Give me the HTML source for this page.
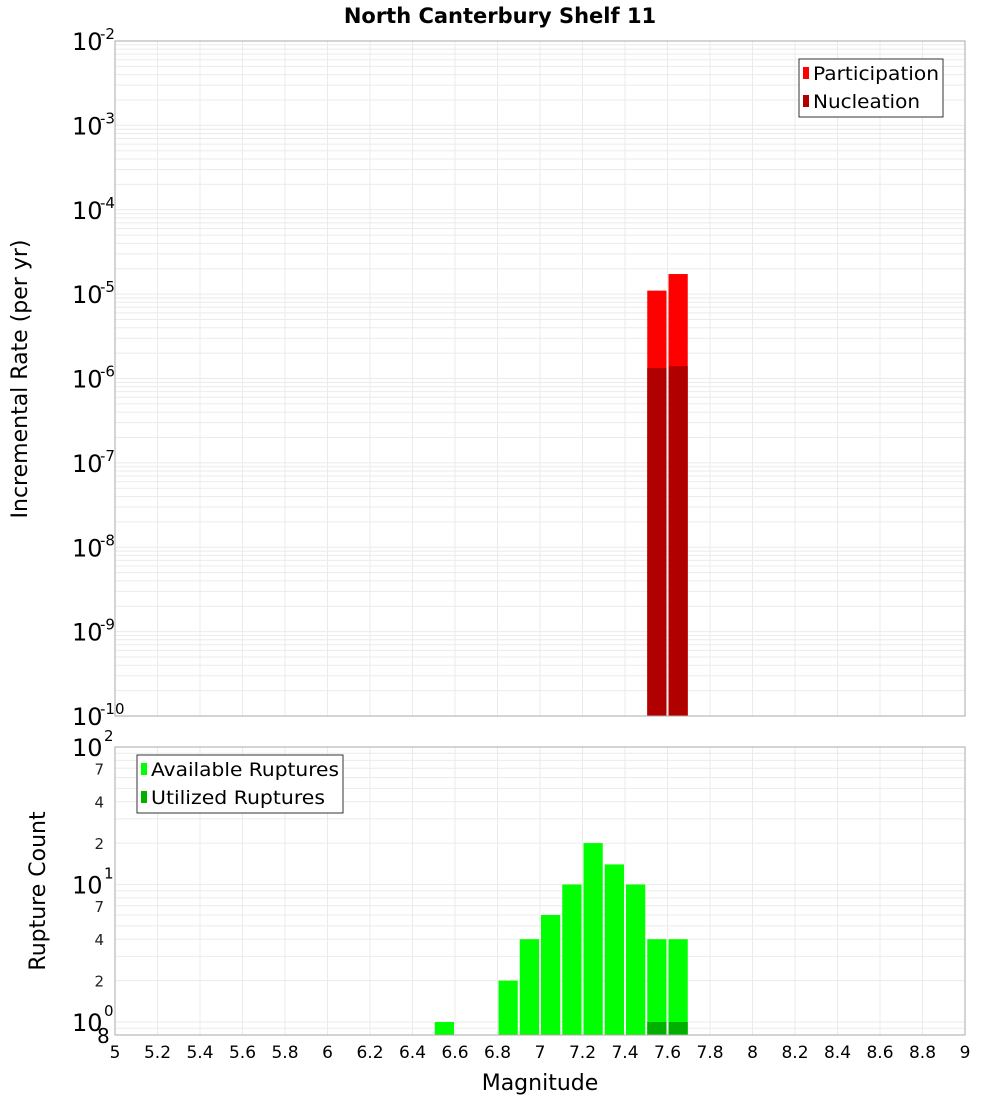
<!DOCTYPE html>
<html><head><meta charset="utf-8"><style>
html,body{margin:0;padding:0;background:#fff}
svg{display:block;font-family:"DejaVu Sans","Liberation Sans",sans-serif}
</style></head><body>
<svg id="c" width="1000" height="1100">
<g id="topg"></g>
<g id="botg"></g>
<text x="500" y="23" text-anchor="middle" font-size="21" font-weight="bold">North Canterbury Shelf 11</text>
<text transform="translate(27,379) rotate(-90)" text-anchor="middle" font-size="22">Incremental Rate (per yr)</text>
<text transform="translate(45,891) rotate(-90)" text-anchor="middle" font-size="22">Rupture Count</text>
<text x="540" y="1090" text-anchor="middle" font-size="22">Magnitude</text>
<g>
<rect x="799" y="59" width="144" height="58" fill="#fff" stroke="#333"/>
<rect x="803" y="67" width="6" height="12" fill="#ff0000"/>
<text x="813" y="80" font-size="19" textLength="126" lengthAdjust="spacingAndGlyphs">Participation</text>
<rect x="803" y="95" width="6" height="12" fill="#b00000"/>
<text x="813" y="108" font-size="19" textLength="107" lengthAdjust="spacingAndGlyphs">Nucleation</text>
</g>
<g>
<rect x="137" y="755" width="206" height="58" fill="#fff" stroke="#333"/>
<rect x="141" y="763" width="6" height="12" fill="#00ff00"/>
<text x="151" y="776" font-size="19" textLength="188" lengthAdjust="spacingAndGlyphs">Available Ruptures</text>
<rect x="141" y="791" width="6" height="12" fill="#00b000"/>
<text x="151" y="804" font-size="19" textLength="174" lengthAdjust="spacingAndGlyphs">Utilized Ruptures</text>
</g>
</svg>
<script>
const binCenters=[6.55,6.85,6.95,7.05,7.15,7.25,7.35,7.45,7.55,7.65];
const availableCounts=[1,2,4,6,10,20,14,10,4,4];
const utilizedCounts=[0,0,0,0,0,0,0,0,1,1];
const rateBins=[7.55,7.65];
const participationRates=[1.1e-5,1.73e-5];
const nucleationRates=[1.33e-6,1.4e-6];
const xTicks=["5","5.2","5.4","5.6","5.8","6","6.2","6.4","6.6","6.8","7","7.2","7.4","7.6","7.8","8","8.2","8.4","8.6","8.8","9"];
const rateExps=[-2,-3,-4,-5,-6,-7,-8,-9,-10];

const NS="http://www.w3.org/2000/svg";
const X0=115,X1=965;
function xs(m){return X0+(m-5)/4*(X1-X0);}
const T0=41,T1=716;
function yTop(v){return T0+(-2-Math.log10(v))*(T1-T0)/8;}
const B0=747,B1=1035;
function yBot(v){return 1022-Math.log10(v)*137.5;}
function mk(par,tag,at){const e=document.createElementNS(NS,tag);for(const k in at)e.setAttribute(k,at[k]);par.appendChild(e);return e;}
const gTop=document.getElementById('topg'),gBot=document.getElementById('botg');
mk(gTop,'rect',{x:X0,y:T0,width:X1-X0,height:T1-T0,fill:'#fff'});
mk(gBot,'rect',{x:X0,y:B0,width:X1-X0,height:B1-B0,fill:'#fff'});
for(let e=-10;e<-2;e++)for(let k=1;k<10;k++){const y=yTop(k*Math.pow(10,e));const g=mk(gTop,'line',{x1:X0,x2:X1,y1:y,y2:y,stroke:'#ebebeb','stroke-width':1});

}
for(let e=-1;e<2;e++)for(let k=1;k<10;k++){const y=yBot(k*Math.pow(10,e));if(y<B0||y>B1)continue;const g=mk(gBot,'line',{x1:X0,x2:X1,y1:y,y2:y,stroke:'#ebebeb','stroke-width':1});

}
xTicks.forEach(t=>{const x=xs(parseFloat(t));
[[T0,T1,gTop],[B0,B1,gBot]].forEach(([a,b,p])=>{const g=mk(p,'line',{x1:x,x2:x,y1:a,y2:b,stroke:'#ebebeb'});

});
const tx=mk(gBot,'text',{x:x,y:1058,'text-anchor':'middle','font-size':17});tx.textContent=t;

});
rateBins.forEach((m,i)=>{const xl=xs(m-0.05)+1,w=xs(m+0.05)-xs(m-0.05)-2;
const y1=yTop(participationRates[i]);const r=mk(gTop,'rect',{x:xl,y:y1,width:w,height:T1-y1,fill:'#ff0000'});


const y2=yTop(nucleationRates[i]);const n=mk(gTop,'rect',{x:xl,y:y2,width:w,height:T1-y2,fill:'#b00000'});

});
binCenters.forEach((m,i)=>{const xl=xs(m-0.05)+1,w=xs(m+0.05)-xs(m-0.05)-2;
const y1=yBot(availableCounts[i]);const r=mk(gBot,'rect',{x:xl,y:y1,width:w,height:B1-y1,fill:'#00ff00'});


if(utilizedCounts[i]>0){const y2=yBot(utilizedCounts[i]);const n=mk(gBot,'rect',{x:xl,y:y2,width:w,height:B1-y2,fill:'#00b000'});

}});
mk(gTop,'rect',{x:X0,y:T0,width:X1-X0,height:T1-T0,fill:'none',stroke:'#aaa'});
mk(gBot,'rect',{x:X0,y:B0,width:X1-X0,height:B1-B0,fill:'none',stroke:'#aaa'});
rateExps.forEach(e=>{const y=yTop(Math.pow(10,e));const t=mk(gTop,'text',{x:72,y:y+9,'font-size':24});t.textContent='10';


const s=mk(gTop,'text',{x:100,y:y-2,'font-size':15});s.textContent=String(e);

});
[[100,'2'],[10,'1'],[1,'0']].forEach(([v,e])=>{const y=yBot(v);const t=mk(gBot,'text',{x:72,y:y+9,'font-size':24});t.textContent='10';


const s=mk(gBot,'text',{x:104,y:y-6,'font-size':15});s.textContent=e;

});
[[70,'7'],[40,'4'],[20,'2'],[7,'7'],[4,'4'],[2,'2']].forEach(([v,l])=>{const y=yBot(v);const t=mk(gBot,'text',{x:104,y:y+6,'font-size':15,'text-anchor':'end',fill:'#222'});t.textContent=l;

});
const e8=mk(gBot,'text',{x:97,y:1043,'font-size':20});e8.textContent='8';


</script>
</body></html>
